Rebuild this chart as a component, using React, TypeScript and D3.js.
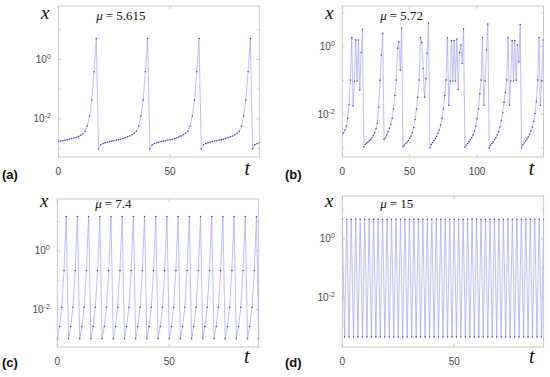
import * as d3 from 'd3'

// x_t, stored as log10 values (the y axes are logarithmic)
const logXA = [
  -2.76, -2.74, -2.73, -2.71, -2.7, -2.68, -2.66, -2.64, -2.62, -2.59, -2.55, -2.5, -2.42, -2.24, -1.9, -1.36, -0.41, 0.71,
  -3.01, -2.87, -2.83, -2.8, -2.78, -2.76, -2.74, -2.73, -2.71, -2.7, -2.68, -2.66, -2.63, -2.6, -2.57, -2.53, -2.48, -2.41, -2.24, -1.9, -1.36, -0.41, 0.71,
  -3.01, -2.87, -2.83, -2.8, -2.78, -2.76, -2.74, -2.73, -2.71, -2.7, -2.68, -2.66, -2.63, -2.6, -2.57, -2.53, -2.48, -2.41, -2.24, -1.9, -1.36, -0.41, 0.71,
  -3.01, -2.87, -2.83, -2.8, -2.78, -2.76, -2.74, -2.73, -2.71, -2.7, -2.68, -2.66, -2.63, -2.6, -2.57, -2.53, -2.48, -2.41, -2.24, -1.9, -1.36, -0.41, 0.71,
  -3.01, -2.87, -2.83, -2.8,
]

const logXB = [
  -2.6, -2.55, -2.47, -2.35, -2.12, -1.72, -0.99, 0.27, -1.76, -1.03, 0.19, -1.02, 0.19, -1.29, -0.18, 0.51,
  -2.97, -2.9, -2.86, -2.83, -2.79, -2.75, -2.7, -2.63, -2.55, -2.43, -2.27, -1.8, -1.0, -0.25, 0.39,
  -2.75, -2.7, -2.62, -2.52, -2.42, -2.3, -2.12, -1.85, -1.45, -0.99, -0.05, 0.14, -0.7, 0.55,
  -2.97, -2.92, -2.87, -2.83, -2.78, -2.72, -2.65, -2.55, -2.4, -2.16, -1.85, -1.5, -0.99, 0.27, 0.12, -0.65, -1.5, -0.95, -0.2, 0.7,
  -3.0, -2.9, -2.84, -2.78, -2.72, -2.66, -2.57, -2.47, -2.32, -2.12, -1.85, -1.45, -0.99, 0.26, -1.74, -1.02, 0.18, -1.02, 0.18, -1.02, 0.22, -1.27, -0.18, 0.05, -0.5, 0.53,
  -2.98, -2.92, -2.87, -2.82, -2.76, -2.7, -2.62, -2.51, -2.36, -2.14, -1.85, -1.4, -0.99, 0.27, -1.74, -1.02, -0.1, 0.67,
  -3.0, -2.92, -2.87, -2.82, -2.76, -2.7, -2.62, -2.52, -2.38, -2.18, -1.95, -1.65, -1.35, -0.99, 0.26, -1.74, -1.02, 0.18, -1.02, 0.18, -1.0, 0.05, -0.45, 0.65,
  -3.0, -2.91, -2.85, -2.8, -2.74, -2.68, -2.6, -2.5, -2.38, -2.22, -1.98, -1.62, -0.99, 0.27, -1.74, -1.02, 0.19,
]

const logXC = [
  -3.0, -2.58, -1.92, -0.67, 1.17, -3.0, -2.58, -1.92, -0.67, 1.17, -3.0, -2.58, -1.92, -0.67, 1.17,
  -3.0, -2.58, -1.92, -0.67, 1.17, -3.0, -2.58, -1.92, -0.67, 1.17, -3.0, -2.58, -1.92, -0.67, 1.17,
  -3.0, -2.58, -1.92, -0.67, 1.17, -3.0, -2.58, -1.92, -0.67, 1.17, -3.0, -2.58, -1.92, -0.67, 1.17,
  -3.0, -2.58, -1.92, -0.67, 1.17, -3.0, -2.58, -1.92, -0.67, 1.17, -3.0, -2.58, -1.92, -0.67, 1.17,
  -3.0, -2.58, -1.92, -0.67, 1.17, -3.0, -2.58, -1.92, -0.67, 1.17, -3.0, -2.58, -1.92, -0.67, 1.17,
  -3.0, -2.58, -1.92, -0.67, 1.17, -3.0, -2.58, -1.92, -0.67, 1.17, -3.0, -2.58, -1.92, -0.67, 1.17,
  -3.0,
]

const logXD = [
  0.67, -3.35, 0.67, -3.35, 0.67, -3.35, 0.67, -3.35, 0.67, -3.35, 0.67, -3.35, 0.67, -3.35, 0.67, -3.35,
  0.67, -3.35, 0.67, -3.35, 0.67, -3.35, 0.67, -3.35, 0.67, -3.35, 0.67, -3.35, 0.67, -3.35, 0.67, -3.35,
  0.67, -3.35, 0.67, -3.35, 0.67, -3.35, 0.67, -3.35, 0.67, -3.35, 0.67, -3.35, 0.67, -3.35, 0.67, -3.35,
  0.67, -3.35, 0.67, -3.35, 0.67, -3.35, 0.67, -3.35, 0.67, -3.35, 0.67, -3.35, 0.67, -3.35, 0.67, -3.35,
  0.67, -3.35, 0.67, -3.35, 0.67, -3.35, 0.67, -3.35, 0.67, -3.35, 0.67, -3.35, 0.67, -3.35, 0.67, -3.35,
  0.67, -3.35, 0.67, -3.35, 0.67, -3.35, 0.67, -3.35, 0.67, -3.35, 0.67,
]

const muLabels = ['5.615', '5.72', '7.4', '15']
const panelTags = ['(a)', '(b)', '(c)', '(d)']
const xTicksShort = [0, 50]
const xTicksLong = [0, 50, 100]
const yTickExponents = [0, -2]

const W = 550
const H = 377
const LINE = '#a4a4f2'
const DOT = '#3d3db8'
const FRAME = '#bcbcbc'
const TICK_TEXT = '#4a4a4a'
const SERIF = "'Liberation Serif', 'DejaVu Serif', serif"
const SANS = "'Liberation Sans', Arial, sans-serif"

interface Panel {
  data: number[]
  tMax: number
  xTicks: number[]
  left: number
  right: number
  top: number
  bottom: number
  logLo: number
  logHi: number
  mu: string
  tag: string
  tagX: number
  row: number
}

const panels: Panel[] = [
  { data: logXA, tMax: 90, xTicks: xTicksShort, left: 58.3, right: 259.3, top: 6, bottom: 157,
    logLo: -3.28, logHi: 1.8, mu: muLabels[0], tag: panelTags[0], tagX: 2, row: 0 },
  { data: logXB, tMax: 149.3, xTicks: xTicksLong, left: 342.3, right: 543.5, top: 6, bottom: 157,
    logLo: -3.27, logHi: 1.2, mu: muLabels[1], tag: panelTags[1], tagX: 285, row: 0 },
  { data: logXC, tMax: 90, xTicks: xTicksShort, left: 57.3, right: 258.7, top: 199, bottom: 347,
    logLo: -3.28, logHi: 1.77, mu: muLabels[2], tag: panelTags[2], tagX: 2, row: 1 },
  { data: logXD, tMax: 90, xTicks: xTicksShort, left: 342.3, right: 543.7, top: 196, bottom: 347,
    logLo: -3.69, logHi: 1.46, mu: muLabels[3], tag: panelTags[3], tagX: 285, row: 1 },
]

const PanelChart = ({ p }: { p: Panel }) => {
  const x = d3.scaleLinear().domain([0, p.tMax]).range([p.left, p.right])
  const y = d3
    .scaleLog()
    .domain([Math.pow(10, p.logLo), Math.pow(10, p.logHi)])
    .range([p.bottom, p.top])
  const pts = p.data.map((v, i) => ({ t: i, v: Math.pow(10, v) }))
  const line = d3
    .line<{ t: number; v: number }>()
    .x((d) => x(d.t))
    .y((d) => y(d.v))
  const decades = d3.range(Math.ceil(p.logLo), Math.floor(p.logHi) + 1)
  const rowBase = p.row === 0 ? 0 : 188

  return (
    <g>
      <defs>
        <clipPath id={`clip-${p.row}-${p.tagX}`}>
          <rect x={p.left} y={p.top} width={p.right - p.left} height={p.bottom - p.top} />
        </clipPath>
      </defs>
      <rect x={p.left} y={p.top} width={p.right - p.left} height={p.bottom - p.top}
        fill="white" stroke={FRAME} strokeWidth={0.8} />
      {p.xTicks.map((t) => (
        <g key={`xt${t}`} stroke={FRAME} strokeWidth={0.7}>
          <line x1={x(t)} x2={x(t)} y1={p.bottom} y2={p.bottom - 3} />
          <line x1={x(t)} x2={x(t)} y1={p.top} y2={p.top + 3} />
        </g>
      ))}
      {decades.map((e) => (
        <g key={`yt${e}`} stroke={FRAME} strokeWidth={0.7}>
          <line x1={p.left} x2={p.left + (e % 2 === 0 ? 3 : 2)} y1={y(Math.pow(10, e))} y2={y(Math.pow(10, e))} />
          <line x1={p.right} x2={p.right - (e % 2 === 0 ? 3 : 2)} y1={y(Math.pow(10, e))} y2={y(Math.pow(10, e))} />
        </g>
      ))}
      <g clipPath={`url(#clip-${p.row}-${p.tagX})`}>
        <path d={line(pts) ?? ''} fill="none" stroke={LINE} strokeWidth={0.7} />
        {pts.map((d) => (
          <circle key={d.t} cx={x(d.t)} cy={y(d.v)} r={0.75} fill={DOT} />
        ))}
      </g>
      {p.xTicks.map((t) => (
        <text key={`xl${t}`} x={x(t)} y={p.bottom + 18} textAnchor="middle"
          fontFamily={SANS} fontSize={10} fill={TICK_TEXT}>
          {t}
        </text>
      ))}
      {yTickExponents.map((e) => (
        <text key={`yl${e}`} x={p.left - 7.5} y={y(Math.pow(10, e)) + 3.5} textAnchor="end"
          fontFamily={SANS} fontSize={10} fill={TICK_TEXT}>
          10
          <tspan dy={-4} fontSize={7}>{e}</tspan>
        </text>
      ))}
      <text x={p.left - 13} y={rowBase + 18.5} textAnchor="middle"
        fontFamily={SERIF} fontStyle="italic" fontSize={19} fill="#111">
        x
      </text>
      <text x={p.right - 12} y={rowBase + 175} textAnchor="middle"
        fontFamily={SERIF} fontStyle="italic" fontSize={20} fill="#111">
        t
      </text>
      <text x={p.left + 38} y={rowBase + 19.5} fontFamily={SERIF} fontSize={13} fill="#111">
        <tspan fontStyle="italic">μ</tspan>
        <tspan dx={3}>=</tspan>
        <tspan dx={3}>{p.mu}</tspan>
      </text>
      <text x={p.tagX} y={rowBase + 179} fontFamily={SANS} fontWeight="bold" fontSize={13} fill="#111">
        {p.tag}
      </text>
    </g>
  )
}

export default function App() {
  return (
    <svg width={W} height={H} viewBox={`0 0 ${W} ${H}`}
      style={{ position: 'absolute', left: 0, top: 0, background: 'white', display: 'block' }}>
      <rect width={W} height={H} fill="white" />
      {panels.map((p) => (
        <PanelChart key={`${p.row}-${p.tagX}`} p={p} />
      ))}
    </svg>
  )
}
